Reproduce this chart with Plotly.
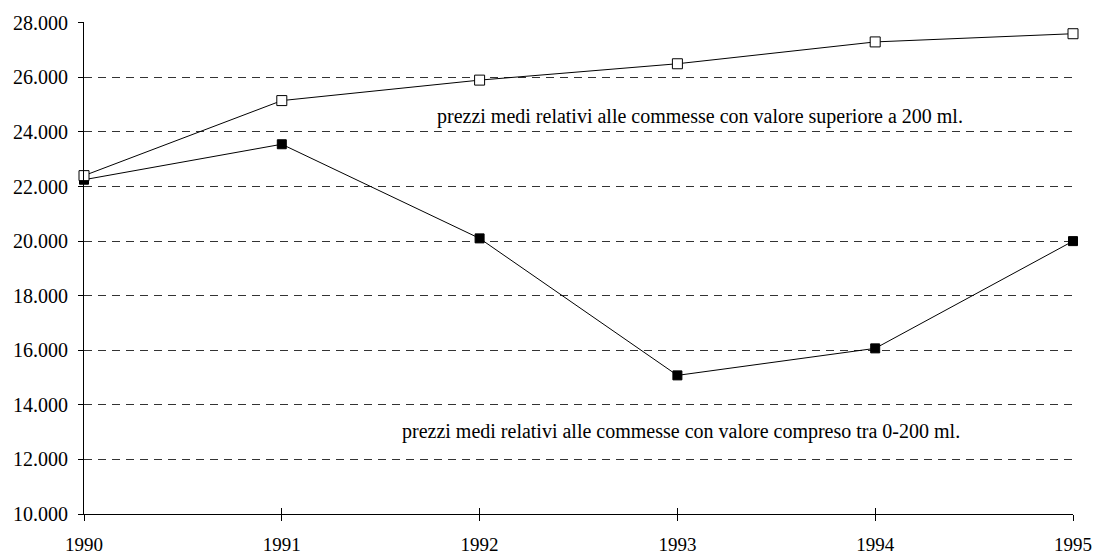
import plotly.graph_objects as go

years = [1990, 1991, 1992, 1993, 1994, 1995]
sopra_200 = [22400, 25150, 25900, 26500, 27300, 27600]
tra_0_200 = [22250, 23550, 20100, 15080, 16070, 20000]
y_ticks = [10000, 12000, 14000, 16000, 18000, 20000, 22000, 24000, 26000, 28000]
label_sopra = "prezzi medi relativi alle commesse con valore superiore a 200 ml."
label_tra = "prezzi medi relativi alle commesse con valore compreso tra 0-200 ml."

FONT = "Liberation Serif"

fig = go.Figure()
fig.add_trace(go.Scatter(
    x=years, y=tra_0_200, mode="lines+markers",
    line=dict(color="black", width=1),
    marker=dict(symbol="square", size=9, color="black", line=dict(color="black", width=1)),
    showlegend=False, cliponaxis=False))
fig.add_trace(go.Scatter(
    x=years, y=sopra_200, mode="lines+markers",
    line=dict(color="black", width=1),
    marker=dict(symbol="square", size=10, color="white", line=dict(color="black", width=1)),
    showlegend=False, cliponaxis=False))

fig.add_annotation(x=1993.114, y=24560, xref="x", yref="y", text=label_sopra,
                   showarrow=False, font=dict(family=FONT, size=20, color="black"))
fig.add_annotation(x=1993.018, y=13040, xref="x", yref="y", text=label_tra,
                   showarrow=False, font=dict(family=FONT, size=20, color="black"))

fig.update_layout(
    width=1095, height=557,
    margin=dict(l=84, r=22, t=22, b=43, pad=0, autoexpand=False),
    paper_bgcolor="white", plot_bgcolor="white",
    separators=",.",
    font=dict(family=FONT, size=20, color="black"),
    xaxis=dict(range=[1990, 1995], tickvals=years, ticktext=[str(y) for y in years],
               tickfont=dict(size=19),
               showgrid=False, zeroline=False, showline=True, linecolor="black", linewidth=1,
               ticks="outside", ticklen=6, tickcolor="black", tickwidth=1,
               ticklabelstandoff=7, automargin=False),
    xaxis2=dict(range=[1990, 1995], tickvals=years, overlaying="x", side="bottom",
                showticklabels=False, showgrid=False, zeroline=False, showline=False,
                ticks="inside", ticklen=6, tickcolor="black", tickwidth=1, automargin=False),
    yaxis=dict(range=[10000, 28030], tickvals=y_ticks, tickformat=",.0f",
               showgrid=True, gridcolor="#333", griddash="8px,6px", gridwidth=1,
               zeroline=False, showline=True, linecolor="black", linewidth=1,
               ticks="outside", ticklen=5, tickcolor="black", tickwidth=1,
               ticklabelstandoff=6, automargin=False),
)
fig.add_trace(go.Scatter(x=[years[0]], y=[None], xaxis="x2", showlegend=False, hoverinfo="skip"))
fig.write_html("out.html", config={"displayModeBar": False},
               post_script="document.body.style.margin='0';document.body.style.overflow='hidden';")
